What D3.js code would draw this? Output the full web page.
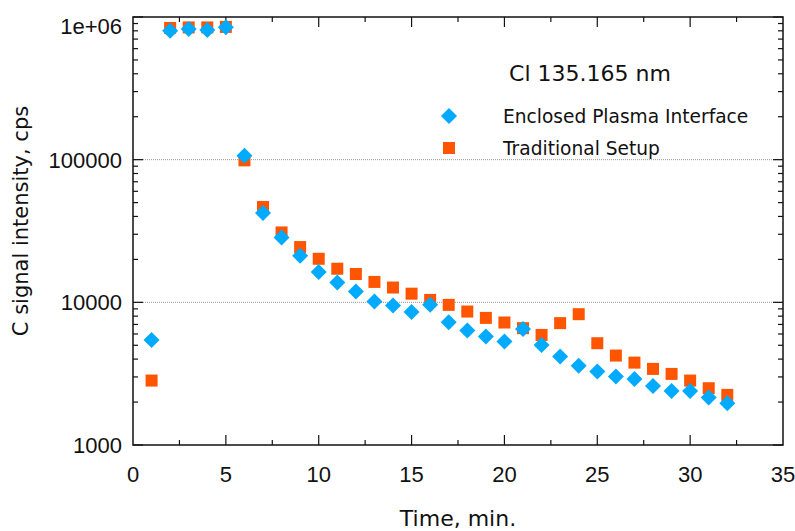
<!DOCTYPE html>
<html>
<head>
<meta charset="utf-8">
<script src="https://cdn.jsdelivr.net/npm/d3@7"></script>
<style>
  body { margin: 0; background: #fff; }
  text { font-family: "DejaVu Sans", sans-serif; fill: #111; }
  .tick-label { font-family: "Liberation Sans", Arial, sans-serif; }
</style>
</head>
<body>
<div id="svgContainer"></div>
<script>
// time in minutes
const times = d3.range(1, 33);

// Enclosed Plasma Interface (blue diamonds)
const enclosed = [5450, 802000, 824000, 810000, 847000, 106700, 42300, 28500, 21200, 16300,
    13800, 11900, 10150, 9500, 8550, 9600, 7260, 6340, 5750, 5310,
    6490, 5030, 4170, 3590, 3270, 3015, 2905, 2594, 2393, 2393,
    2150, 1960];

// Traditional Setup (orange squares)
const traditional = [2830, 838000, 845000, 845000, 852000, 98900, 46600, 30900, 24400, 20200,
    17200, 15800, 13900, 12700, 11500, 10400, 9600, 8620, 7780, 7220,
    6590, 5910, 7150, 8260, 5170, 4235, 3780, 3415, 3150, 2830,
    2500, 2245];

const xTicks = [0, 5, 10, 15, 20, 25, 30, 35];
const yTicks = [1000, 10000, 100000, 1000000];
const yTickLabels = ["1000", "10000", "100000", "1e+06"];

const width = 795;
const height = 531;
const margin = {top: 17, right: 12, bottom: 86, left: 133};

const svg = d3.select("#svgContainer").append("svg")
    .attr("width", width)
    .attr("height", height);

const x = d3.scaleLinear().domain([0, 35]).range([margin.left, width - margin.right]);
const y = d3.scaleLog().domain([1000, 1000000]).range([height - margin.bottom, margin.top]);

const x0 = margin.left, x1 = width - margin.right;
const y0 = height - margin.bottom, y1 = margin.top;

// gridlines at inner decades
svg.append("g")
    .selectAll("line")
    .data([10000, 100000])
    .join("line")
    .attr("x1", x0)
    .attr("x2", x1)
    .attr("y1", d => y(d))
    .attr("y2", d => y(d))
    .attr("stroke", "#999")
    .attr("stroke-width", 1)
    .attr("stroke-dasharray", "1,1");

// minor y ticks (2..9 within each decade)
const yMinor = [];
for (let e = 3; e < 6; e++) {
    for (let m = 2; m <= 9; m++) yMinor.push(m * Math.pow(10, e));
}
const xMinor = d3.range(2.5, 35, 5);

const ticks = svg.append("g").attr("stroke", "#111").attr("stroke-width", 1.2);

// left + right ticks
[[x0, 1], [x1, -1]].forEach(([xx, dir]) => {
    ticks.append("g").selectAll("line")
        .data(yTicks)
        .join("line")
        .attr("x1", xx).attr("x2", xx + dir * 10)
        .attr("y1", d => y(d)).attr("y2", d => y(d));
    ticks.append("g").selectAll("line")
        .data(yMinor)
        .join("line")
        .attr("x1", xx).attr("x2", xx + dir * 5)
        .attr("y1", d => y(d)).attr("y2", d => y(d));
});

// bottom + top ticks
[[y0, -1], [y1, 1]].forEach(([yy, dir]) => {
    ticks.append("g").selectAll("line")
        .data(xTicks.slice(1, -1))
        .join("line")
        .attr("y1", yy).attr("y2", yy + dir * 10)
        .attr("x1", d => x(d)).attr("x2", d => x(d));
    ticks.append("g").selectAll("line")
        .data(xMinor)
        .join("line")
        .attr("y1", yy).attr("y2", yy + dir * 5)
        .attr("x1", d => x(d)).attr("x2", d => x(d));
});

// frame
svg.append("rect")
    .attr("x", x0)
    .attr("y", y1)
    .attr("width", x1 - x0)
    .attr("height", y0 - y1)
    .attr("fill", "none")
    .attr("stroke", "#111")
    .attr("stroke-width", 1.5);

// tick labels
svg.append("g")
    .attr("text-anchor", "middle")
    .selectAll("text")
    .data(xTicks)
    .join("text")
    .attr("class", "tick-label")
    .attr("x", d => x(d))
    .attr("y", 482)
    .attr("font-size", 22)
    .text(d => d);

svg.append("g")
    .attr("text-anchor", "end")
    .selectAll("text")
    .data(yTicks)
    .join("text")
    .attr("class", "tick-label")
    .attr("x", x0 - 11)
    .attr("y", (d, i) => y(d) + (i === 3 ? 9 : 0))
    .attr("dy", "0.36em")
    .attr("font-size", 22)
    .text((d, i) => yTickLabels[i]);

// axis titles
svg.append("text")
    .attr("x", (x0 + x1) / 2)
    .attr("y", 526)
    .attr("text-anchor", "middle")
    .attr("font-size", 22)
    .text("Time, min.");

svg.append("text")
    .attr("transform", "translate(28, 221) rotate(-90)")
    .attr("text-anchor", "middle")
    .attr("font-size", 21)
    .text("C signal intensity, cps");

const blue = "#00aaff";
const orange = "#ff5500";

// squares first, diamonds on top
svg.append("g")
    .selectAll("rect")
    .data(times)
    .join("rect")
    .attr("x", (d, i) => x(d) - 6)
    .attr("y", (d, i) => y(traditional[i]) - 6)
    .attr("width", 12)
    .attr("height", 12)
    .attr("fill", orange);

const diamond = "M0,-8L8,0L0,8L-8,0Z";
svg.append("g")
    .selectAll("path")
    .data(times)
    .join("path")
    .attr("d", diamond)
    .attr("transform", (d, i) => `translate(${x(d)},${y(enclosed[i])})`)
    .attr("fill", blue);

// legend
const legend = svg.append("g");
legend.append("text")
    .attr("x", 590)
    .attr("y", 81)
    .attr("text-anchor", "middle")
    .attr("font-size", 22)
    .text("Cl 135.165 nm");

legend.append("path")
    .attr("d", diamond)
    .attr("transform", "translate(449,116)")
    .attr("fill", blue);
legend.append("rect")
    .attr("x", 443).attr("y", 142)
    .attr("width", 12).attr("height", 12)
    .attr("fill", orange);

legend.append("text")
    .attr("x", 503).attr("y", 123)
    .attr("font-size", 18.6)
    .text("Enclosed Plasma Interface");
legend.append("text")
    .attr("x", 503).attr("y", 155)
    .attr("font-size", 18.6)
    .text("Traditional Setup");
</script>
</body>
</html>
